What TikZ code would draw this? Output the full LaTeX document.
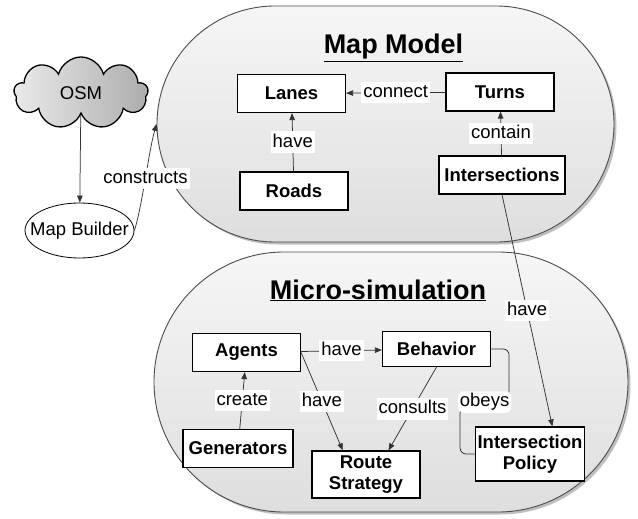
\documentclass[tikz,border=0pt]{standalone}
\usepackage{fontspec}
\setmainfont{Liberation Sans}
\usetikzlibrary{shapes.symbols,shapes.geometric,shadows,arrows.meta}
\definecolor{regiontop}{RGB}{246,246,246}
\definecolor{regionbot}{RGB}{222,222,222}
\definecolor{cloudleft}{RGB}{235,235,235}
\definecolor{cloudright}{RGB}{172,172,172}

\begin{document}
\begin{tikzpicture}[x=1pt,y=-1pt]
\tikzstyle{every node}+=[font=\fontsize{18.5}{21}\selectfont]
\tikzstyle{region}=[draw=black!70, line width=0.9pt, top color=regiontop, bottom color=regionbot, inner sep=0pt, drop shadow={shadow xshift=2.5pt, shadow yshift=-2.5pt, fill=black!50}]
\tikzstyle{box}=[draw=black, line width=1.2pt, fill=white, minimum width=108pt, minimum height=38pt, inner sep=2pt, align=center, font=\bfseries\fontsize{18.5}{21}\selectfont]
\tikzstyle{title}=[anchor=base, font=\bfseries\fontsize{27}{30}\selectfont]
\tikzstyle{lbl}=[fill=white, inner xsep=2pt, inner ysep=2pt, text height=13.5pt, text depth=4pt]
\tikzstyle{line}=[draw=black!80, line width=0.75pt]
\tikzstyle{link}=[line, -{Triangle[length=7pt,width=5.5pt]}]

\useasboundingbox (0,0) rectangle (638,519);

\node[region, rounded corners=118pt, minimum width=457pt, minimum height=236pt] (mapmodel) at (385.5,124) {};
\node[region, rounded corners=130pt, minimum width=474pt, minimum height=260pt] (microsim) at (391,382) {};
\node[title] (mmtitle) at (393.5,54) {\underline{Map Model}};
\node[title] (mstitle) at (378,299) {\underline{Micro-simulation}};

\node[cloud, cloud puffs=9, aspect=2, draw, line width=1.3pt, left color=cloudleft, right color=cloudright, minimum width=134pt, minimum height=72pt] (osm) at (81,93) {OSM};
\node[ellipse, draw, line width=0.8pt, fill=white, minimum width=109pt, minimum height=55pt, inner sep=0pt] (builder) at (79.5,230.5) {\makebox[0pt]{Map Builder}};

\node[box] (lanes) at (291.5,93.5) {Lanes};
\node[box] (turns) at (500,92) {Turns};
\node[box] (roads) at (294,191) {Roads};
\node[box, minimum width=126pt] (inters) at (502,175) {Intersections};
\node[box] (agents) at (246.5,352.5) {Agents};
\node[box, minimum height=35pt] (behavior) at (436.5,349) {Behavior};
\node[box, minimum width=110pt] (generators) at (238,448.5) {Generators};
\node[box, minimum height=47pt] (route) at (366,474.5) {Route\\Strategy};
\node[box, minimum height=54pt] (policy) at (530,454) {Intersection\\Policy};

\draw[link] (osm) -- (builder);
\draw[link] (builder.east) .. controls +(8,-25) and +(-8,28) .. node[lbl]{constructs} (mapmodel.west);
\draw[link] (roads) -- node[lbl]{have} (lanes);
\draw[link] (turns) -- node[lbl]{connect} (lanes);
\draw[link] (inters) -- node[lbl]{contain} (turns);
\draw[link] (inters.south) -- node[lbl]{have} (policy.51);
\draw[link] (agents) -- node[lbl]{have} (behavior);
\draw[link] (agents.east) -- node[lbl]{have} (route.134);
\draw[link] (behavior.south) -- node[lbl]{consults} (route.47);
\draw[link] (generators) -- node[lbl]{create} (agents);
\draw[line, rounded corners=6pt] (behavior.east) -- ++(18,0) -- ++(0,48) -- node[lbl]{obeys} ++(-49,10) |- (policy.west);
\end{tikzpicture}
\end{document}
